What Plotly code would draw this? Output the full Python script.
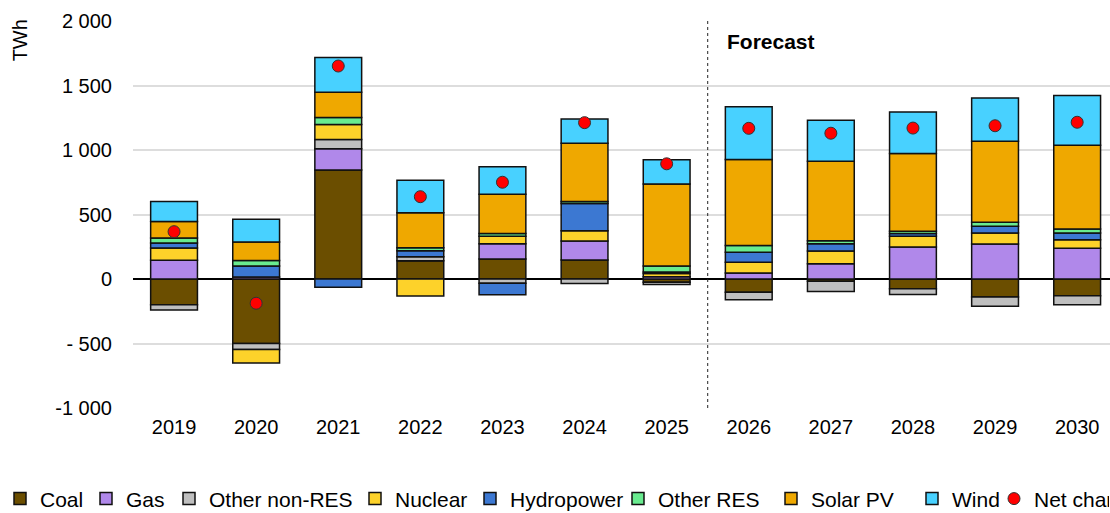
import plotly.graph_objects as go

years = ["2019", "2020", "2021", "2022", "2023", "2024", "2025",
         "2026", "2027", "2028", "2029", "2030"]

coal = [-200, -500, 845, 142, 155, 147, -25, -103, -18, -75, -140, -129]
gas = [145, 15, 165, 0, 119, 147, 18, 47, 119, 248, 271, 238]
other_non_res = [-40, -46, 72, 31, -33, -34, -18, -57, -78, -46, -72, -70]
nuclear = [95, -106, 116, -132, 57, 80, 25, 83, 98, 83, 85, 67]
hydropower = [40, 85, -64, 46, -90, 212, 12, 78, 57, 21, 52, 52]
other_res = [38, 44, 54, 23, 21, 15, 46, 52, 23, 18, 31, 31]
solar_pv = [128, 142, 196, 271, 305, 451, 635, 667, 615, 602, 628, 649]
wind = [155, 178, 269, 253, 214, 188, 189, 408, 318, 323, 336, 385]
net_change = [367, -188, 1651, 638, 750, 1212, 893, 1168, 1130, 1170, 1188, 1215]

y_ticks = [-1000, -500, 0, 500, 1000, 1500, 2000]
y_tick_text = ["-1 000", "- 500", "0", "500", "1 000", "1 500", "2 000"]

series = [
    ("Coal", coal, "#6B4E00"),
    ("Gas", gas, "#B088EA"),
    ("Other non-RES", other_non_res, "#BFBFBF"),
    ("Nuclear", nuclear, "#FDD22A"),
    ("Hydropower", hydropower, "#3C78D2"),
    ("Other RES", other_res, "#69EB8F"),
    ("Solar PV", solar_pv, "#EFA800"),
    ("Wind", wind, "#48D1FF"),
]

FONT = "Liberation Sans, Arial, sans-serif"
W, H = 1110, 513
ML, MR, MT, MB = 133, 0, 21, 105
PW = W - ML - MR

# left edge (px) of each legend entry, one legend per entry
legend_left_px = [0, 86, 169, 355, 470, 618, 771, 912, 994]
legend_ids = ["legend"] + ["legend%d" % i for i in range(2, 10)]

fig = go.Figure()
for i, (name, vals, color) in enumerate(series):
    fig.add_trace(go.Bar(
        x=years, y=vals, name=name, legend=legend_ids[i],
        marker=dict(color=color, line=dict(color="#111111", width=1.5)),
    ))

fig.add_trace(go.Scatter(
    x=years, y=net_change, name="Net change", mode="markers", legend=legend_ids[8],
    marker=dict(color="#FF0000", size=12, line=dict(color="#333333", width=1)),
))

fig.add_shape(type="line", xref="x", yref="paper", x0=6.5, x1=6.5, y0=0, y1=1,
              line=dict(color="#222222", width=1, dash="3px,3px"))

fig.add_annotation(text="<b>Forecast</b>", xref="x", yref="y", x=6.5, y=1845,
                   xanchor="left", yanchor="middle", xshift=17, showarrow=False,
                   font=dict(family=FONT, size=21, color="black"))

fig.add_annotation(text="TWh", xref="paper", yref="paper", x=(20 - ML) / PW, y=0.95,
                   textangle=-90, xanchor="center", yanchor="middle", showarrow=False,
                   font=dict(family=FONT, size=20, color="black"))

legends = {}
for i, lid in enumerate(legend_ids):
    cfg = dict(orientation="h", x=(legend_left_px[i] - ML) / PW, xanchor="left",
               y=-0.235, yanchor="middle", bgcolor="rgba(0,0,0,0)",
               font=dict(family=FONT, size=21, color="black"), itemwidth=30)
    if i == 8:
        cfg["entrywidth"] = 70
        cfg["entrywidthmode"] = "pixels"
    legends[lid] = cfg

fig.update_layout(
    width=W, height=H,
    margin=dict(l=ML, r=MR, t=MT, b=MB, autoexpand=False),
    barmode="relative",
    bargap=0.43,
    plot_bgcolor="white",
    paper_bgcolor="white",
    font=dict(family=FONT, size=20, color="black"),
    showlegend=True,
    xaxis=dict(type="category", range=[-0.5, 11.4], showgrid=False,
               showline=False, ticks="", tickfont=dict(size=20),
               ticklabelstandoff=5),
    yaxis=dict(range=[-1000, 2000], tickvals=y_ticks, ticktext=y_tick_text,
               showgrid=True, gridcolor="#DDDDDD", gridwidth=2,
               zeroline=True, zerolinecolor="black", zerolinewidth=2,
               showline=False, ticks="", tickfont=dict(size=20),
               ticklabelstandoff=20),
    **legends,
)

fig.write_html("out.html", config={"displayModeBar": False},
               post_script="document.body.style.margin='0px';")
